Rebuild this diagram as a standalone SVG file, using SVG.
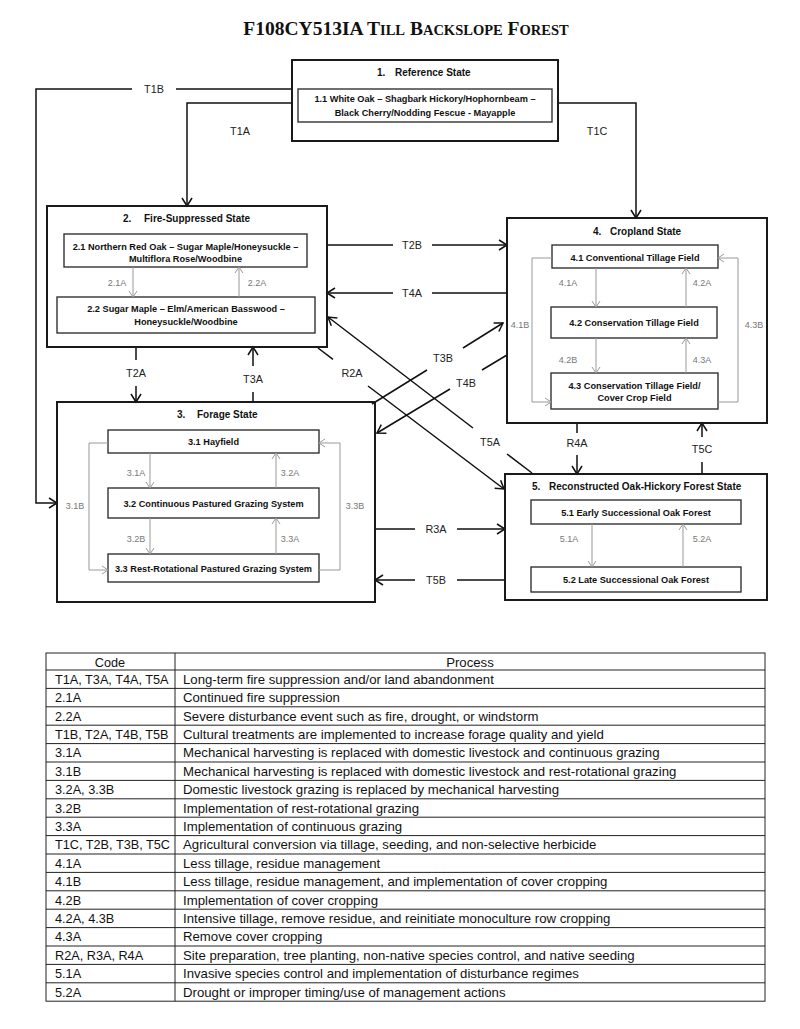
<svg xmlns="http://www.w3.org/2000/svg" width="800" height="1029" viewBox="0 0 800 1029">
<style>
.ob{fill:none;stroke:#1a1a1a;stroke-width:2}
.ib{fill:#fff;stroke:#333;stroke-width:1.4}
.st{font-family:"Liberation Sans",Arial,sans-serif;font-weight:bold;font-size:10px;fill:#111}
.sl{font-family:"Liberation Sans",Arial,sans-serif;font-weight:bold;font-size:9.2px;fill:#111;text-anchor:middle}
.cn{fill:none;stroke:#111;stroke-width:1.5}
.gc{fill:none;stroke:#999;stroke-width:1}
.tl{font-family:"Liberation Sans",Arial,sans-serif;font-size:10.8px;fill:#222;text-anchor:middle}
.gl{font-family:"Liberation Sans",Arial,sans-serif;font-size:9px;fill:#777;text-anchor:middle}
.tt{font-family:"Liberation Sans",Arial,sans-serif;font-size:13.2px;fill:#111}
.tc{font-family:"Liberation Sans",Arial,sans-serif;font-size:12.7px;fill:#111}
.tg{fill:none;stroke:#222;stroke-width:1}
</style>
<defs>
<marker id="ah" markerUnits="userSpaceOnUse" markerWidth="12" markerHeight="12" viewBox="-10 -6 12 12" refX="0" refY="0" orient="auto">
<path d="M-8,-5 L0,0 L-8,5" fill="none" stroke="#111" stroke-width="1.5"/>
</marker>
<marker id="ag" markerUnits="userSpaceOnUse" markerWidth="10" markerHeight="10" viewBox="-8 -5 10 10" refX="0" refY="0" orient="auto">
<path d="M-6,-4 L0,0 L-6,4" fill="none" stroke="#999" stroke-width="1"/>
</marker>
</defs>
<rect x="0" y="0" width="800" height="1029" fill="#fff"/>

<text x="406" y="35" text-anchor="middle" font-family="'Liberation Serif','Times New Roman',serif" font-weight="bold" font-size="19.5" fill="#111">F108CY513IA T<tspan font-size="14.5">ILL</tspan> B<tspan font-size="14.5">ACKSLOPE</tspan> F<tspan font-size="14.5">OREST</tspan></text>

<g id="connectors">
<path class="cn" d="M292,89 L176,89 M132,89 L36,89 L36,503 L57,503" marker-end="url(#ah)"/>
<path class="cn" d="M292,103 L187,103 L187,206" marker-end="url(#ah)"/>
<path class="cn" d="M558,103 L636,103 L636,218" marker-end="url(#ah)"/>
<path class="cn" d="M327,245 L393,245 M432,245 L507,245" marker-end="url(#ah)"/>
<path class="cn" d="M507,293 L432,293 M393,293 L327,293" marker-end="url(#ah)"/>
<path class="cn" d="M136,347 L136,360 M136,386 L136,402" marker-end="url(#ah)"/>
<path class="cn" d="M253,402 L253,392 M253,366 L253,347" marker-end="url(#ah)"/>
<path class="cn" d="M318,348 L333,359.4 M368,386 L504,489" marker-end="url(#ah)"/>
<path class="cn" d="M532,473 L507,454 M473,428 L328,317" marker-end="url(#ah)"/>
<path class="cn" d="M372,404 L427,370 M463,348 L503,323" marker-end="url(#ah)"/>
<path class="cn" d="M507,355 L482,370 M450,389 L377,433" marker-end="url(#ah)"/>
<path class="cn" d="M577,423 L577,433 M577,455 L577,474" marker-end="url(#ah)"/>
<path class="cn" d="M702,474 L702,462 M702,437 L702,423" marker-end="url(#ah)"/>
<path class="cn" d="M375,529 L415,529 M457,529 L505,529" marker-end="url(#ah)"/>
<path class="cn" d="M505,580 L457,580 M415,580 L375,580" marker-end="url(#ah)"/>
<text class="tl" x="154" y="93">T1B</text>
<text class="tl" x="240" y="135">T1A</text>
<text class="tl" x="597" y="135">T1C</text>
<text class="tl" x="412" y="249">T2B</text>
<text class="tl" x="412" y="297">T4A</text>
<text class="tl" x="136" y="377">T2A</text>
<text class="tl" x="253" y="383">T3A</text>
<text class="tl" x="352" y="377">R2A</text>
<text class="tl" x="490" y="446">T5A</text>
<text class="tl" x="443" y="362">T3B</text>
<text class="tl" x="466" y="387">T4B</text>
<text class="tl" x="577" y="447">R4A</text>
<text class="tl" x="702" y="453">T5C</text>
<text class="tl" x="436" y="533">R3A</text>
<text class="tl" x="436" y="584">T5B</text>
</g>

<g id="state1">
<rect class="ob" x="292" y="60" width="266" height="81"/>
<text class="st" y="76"><tspan x="377">1.</tspan><tspan x="395">Reference State</tspan></text>
<rect class="ib" x="298" y="89" width="254" height="33"/>
<text class="sl" x="425" y="101.5">1.1 White Oak – Shagbark Hickory/Hophornbeam –</text>
<text class="sl" x="425" y="115.5">Black Cherry/Nodding Fescue - Mayapple</text>
</g>

<g id="state2">
<rect class="ob" x="47" y="206" width="280" height="141"/>
<text class="st" y="222"><tspan x="123">2.</tspan><tspan x="144">Fire-Suppressed State</tspan></text>
<rect class="ib" x="64" y="234" width="243" height="33"/>
<text class="sl" x="185.5" y="250">2.1 Northern Red Oak – Sugar Maple/Honeysuckle –</text>
<text class="sl" x="185.5" y="262">Multiflora Rose/Woodbine</text>
<rect class="ib" x="57" y="297" width="258" height="36"/>
<text class="sl" x="186" y="312">2.2 Sugar Maple – Elm/American Basswood –</text>
<text class="sl" x="186" y="325">Honeysuckle/Woodbine</text>
<path class="gc" d="M133,267 L133,297" marker-end="url(#ag)"/>
<path class="gc" d="M239,297 L239,267" marker-end="url(#ag)"/>
<text class="gl" x="117" y="286">2.1A</text>
<text class="gl" x="257" y="286">2.2A</text>
</g>

<g id="state3">
<rect class="ob" x="57" y="402" width="318" height="200"/>
<text class="st" y="418"><tspan x="177">3.</tspan><tspan x="197">Forage State</tspan></text>
<rect class="ib" x="108" y="430" width="211" height="23"/>
<text class="sl" x="213.5" y="445">3.1 Hayfield</text>
<rect class="ib" x="108" y="488" width="211" height="30"/>
<text class="sl" x="213.5" y="506.5">3.2 Continuous Pastured Grazing System</text>
<rect class="ib" x="108" y="554" width="211" height="28"/>
<text class="sl" x="213.5" y="571.5">3.3 Rest-Rotational Pastured Grazing System</text>
<path class="gc" d="M150,453 L150,488" marker-end="url(#ag)"/>
<path class="gc" d="M276,488 L276,453" marker-end="url(#ag)"/>
<path class="gc" d="M150,518 L150,554" marker-end="url(#ag)"/>
<path class="gc" d="M276,554 L276,518" marker-end="url(#ag)"/>
<path class="gc" d="M108,443 L89,443 L89,570 L108,570" marker-end="url(#ag)"/>
<path class="gc" d="M319,570 L340,570 L340,443 L319,443" marker-end="url(#ag)"/>
<text class="gl" x="136" y="476">3.1A</text>
<text class="gl" x="290" y="476">3.2A</text>
<text class="gl" x="136" y="542">3.2B</text>
<text class="gl" x="290" y="542">3.3A</text>
<text class="gl" x="75" y="509">3.1B</text>
<text class="gl" x="355" y="509">3.3B</text>
</g>

<g id="state4">
<rect class="ob" x="507" y="218" width="260" height="205"/>
<text class="st" y="235"><tspan x="593">4.</tspan><tspan x="610">Cropland State</tspan></text>
<rect class="ib" x="552" y="245" width="166" height="23"/>
<text class="sl" x="635" y="260.5">4.1 Conventional Tillage Field</text>
<rect class="ib" x="551" y="307" width="166" height="31"/>
<text class="sl" x="634" y="325.5">4.2 Conservation Tillage Field</text>
<rect class="ib" x="551" y="373" width="167" height="36"/>
<text class="sl" x="634.5" y="388.5">4.3 Conservation Tillage Field/</text>
<text class="sl" x="634.5" y="401">Cover Crop Field</text>
<path class="gc" d="M596,268 L596,307" marker-end="url(#ag)"/>
<path class="gc" d="M686,307 L686,268" marker-end="url(#ag)"/>
<path class="gc" d="M596,338 L596,373" marker-end="url(#ag)"/>
<path class="gc" d="M686,373 L686,338" marker-end="url(#ag)"/>
<path class="gc" d="M552,258 L532,258 L532,402 L551,402" marker-end="url(#ag)"/>
<path class="gc" d="M718,402 L738,402 L738,258 L718,258" marker-end="url(#ag)"/>
<text class="gl" x="568" y="286">4.1A</text>
<text class="gl" x="702" y="286">4.2A</text>
<text class="gl" x="568" y="363">4.2B</text>
<text class="gl" x="702" y="363">4.3A</text>
<text class="gl" x="520" y="328">4.1B</text>
<text class="gl" x="754" y="328">4.3B</text>
</g>

<g id="state5">
<rect class="ob" x="505" y="474" width="262" height="126"/>
<text class="st" y="490"><tspan x="532">5.</tspan><tspan x="549">Reconstructed Oak-Hickory Forest State</tspan></text>
<rect class="ib" x="531" y="500" width="210" height="24"/>
<text class="sl" x="636" y="515.5">5.1 Early Successional Oak Forest</text>
<rect class="ib" x="531" y="567" width="210" height="25"/>
<text class="sl" x="636" y="582.5">5.2 Late Successional Oak Forest</text>
<path class="gc" d="M592,524 L592,567" marker-end="url(#ag)"/>
<path class="gc" d="M683,567 L683,524" marker-end="url(#ag)"/>
<text class="gl" x="569" y="542">5.1A</text>
<text class="gl" x="702" y="542">5.2A</text>
</g>

<g id="table">
<rect class="tg" x="46" y="653" width="719" height="348.2" fill="none"/>
<path class="tg" d="M175,653 L175,1001.2 M46,670 H765 M46,688.4 H765 M46,706.8 H765 M46,725.2 H765 M46,743.6 H765 M46,762 H765 M46,780.4 H765 M46,798.8 H765 M46,817.2 H765 M46,835.6 H765 M46,854 H765 M46,872.4 H765 M46,890.8 H765 M46,909.2 H765 M46,927.6 H765 M46,946 H765 M46,964.4 H765 M46,982.8 H765"/>
<text class="tc" x="110" y="666.5" text-anchor="middle">Code</text>
<text class="tt" x="470" y="666.5" text-anchor="middle">Process</text>
<text class="tc" x="55" y="683.8">T1A, T3A, T4A, T5A</text>
<text class="tt" x="183" y="683.8">Long-term fire suppression and/or land abandonment</text>
<text class="tc" x="55" y="702.2">2.1A</text>
<text class="tt" x="183" y="702.2">Continued fire suppression</text>
<text class="tc" x="55" y="720.6">2.2A</text>
<text class="tt" x="183" y="720.6">Severe disturbance event such as fire, drought, or windstorm</text>
<text class="tc" x="55" y="739">T1B, T2A, T4B, T5B</text>
<text class="tt" x="183" y="739">Cultural treatments are implemented to increase forage quality and yield</text>
<text class="tc" x="55" y="757.4">3.1A</text>
<text class="tt" x="183" y="757.4">Mechanical harvesting is replaced with domestic livestock and continuous grazing</text>
<text class="tc" x="55" y="775.8">3.1B</text>
<text class="tt" x="183" y="775.8">Mechanical harvesting is replaced with domestic livestock and rest-rotational grazing</text>
<text class="tc" x="55" y="794.2">3.2A, 3.3B</text>
<text class="tt" x="183" y="794.2">Domestic livestock grazing is replaced by mechanical harvesting</text>
<text class="tc" x="55" y="812.6">3.2B</text>
<text class="tt" x="183" y="812.6">Implementation of rest-rotational grazing</text>
<text class="tc" x="55" y="831">3.3A</text>
<text class="tt" x="183" y="831">Implementation of continuous grazing</text>
<text class="tc" x="55" y="849.4">T1C, T2B, T3B, T5C</text>
<text class="tt" x="183" y="849.4">Agricultural conversion via tillage, seeding, and non-selective herbicide</text>
<text class="tc" x="55" y="867.8">4.1A</text>
<text class="tt" x="183" y="867.8">Less tillage, residue management</text>
<text class="tc" x="55" y="886.2">4.1B</text>
<text class="tt" x="183" y="886.2">Less tillage, residue management, and implementation of cover cropping</text>
<text class="tc" x="55" y="904.6">4.2B</text>
<text class="tt" x="183" y="904.6">Implementation of cover cropping</text>
<text class="tc" x="55" y="923">4.2A, 4.3B</text>
<text class="tt" x="183" y="923">Intensive tillage, remove residue, and reinitiate monoculture row cropping</text>
<text class="tc" x="55" y="941.4">4.3A</text>
<text class="tt" x="183" y="941.4">Remove cover cropping</text>
<text class="tc" x="55" y="959.8">R2A, R3A, R4A</text>
<text class="tt" x="183" y="959.8">Site preparation, tree planting, non-native species control, and native seeding</text>
<text class="tc" x="55" y="978.2">5.1A</text>
<text class="tt" x="183" y="978.2">Invasive species control and implementation of disturbance regimes</text>
<text class="tc" x="55" y="996.6">5.2A</text>
<text class="tt" x="183" y="996.6">Drought or improper timing/use of management actions</text>
</g>
</svg>
